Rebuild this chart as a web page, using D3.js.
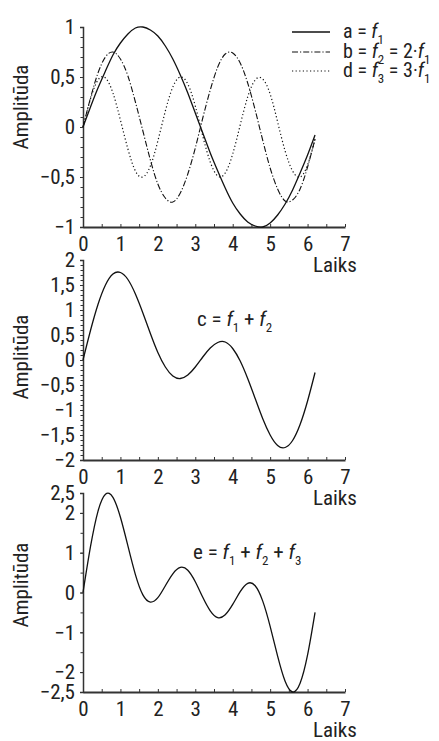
<!DOCTYPE html>
<html>
<head>
<meta charset="utf-8">
<script src="https://cdn.jsdelivr.net/npm/d3@7"></script>
<style>
  body { margin: 0; background: #fff; }
  svg text { font-family: "Roboto Condensed", Roboto, "Liberation Sans Narrow", sans-serif; font-stretch: condensed; fill: #222; }
</style>
</head>
<body>
<div class="vis"></div>
<script>
// time samples (Laiks)
const laiks = [0, 0.2, 0.4, 0.6, 0.8, 1.0, 1.2, 1.4, 1.6, 1.8, 2.0, 2.2, 2.4, 2.6, 2.8, 3.0,
  3.2, 3.4, 3.6, 3.8, 4.0, 4.2, 4.4, 4.6, 4.8, 5.0, 5.2, 5.4, 5.6, 5.8, 6.0, 6.2];

// panel 1
const seriesA = [0, 0.20, 0.39, 0.56, 0.72, 0.84, 0.93, 0.99, 1.00, 0.97, 0.91, 0.81, 0.68, 0.52, 0.34, 0.14,
  -0.06, -0.26, -0.44, -0.61, -0.76, -0.87, -0.95, -0.99, -1.00, -0.96, -0.88, -0.77, -0.63, -0.46, -0.28, -0.08];
const seriesB = [0, 0.29, 0.54, 0.70, 0.75, 0.68, 0.51, 0.25, -0.04, -0.33, -0.57, -0.71, -0.75, -0.66, -0.47, -0.21,
  0.09, 0.37, 0.60, 0.73, 0.74, 0.64, 0.44, 0.17, -0.13, -0.41, -0.62, -0.74, -0.73, -0.62, -0.40, -0.12];
const seriesD = [0, 0.28, 0.47, 0.49, 0.34, 0.07, -0.22, -0.44, -0.50, -0.39, -0.14, 0.16, 0.40, 0.50, 0.43, 0.21,
  -0.09, -0.35, -0.49, -0.46, -0.27, 0.02, 0.30, 0.47, 0.48, 0.33, 0.05, -0.24, -0.44, -0.50, -0.38, -0.12];

// panel 2
const seriesC = [0, 0.59, 1.11, 1.50, 1.72, 1.75, 1.61, 1.32, 0.94, 0.53, 0.15, -0.14, -0.32, -0.37, -0.30, -0.14,
  0.06, 0.24, 0.35, 0.36, 0.23, -0.02, -0.37, -0.77, -1.17, -1.50, -1.71, -1.75, -1.61, -1.29, -0.82, -0.25];

// panel 3
const seriesE = [0, 1.15, 2.04, 2.47, 2.39, 1.89, 1.17, 0.45, -0.06, -0.24, -0.13, 0.17, 0.47, 0.63, 0.56, 0.27,
  -0.12, -0.46, -0.63, -0.56, -0.30, 0.02, 0.23, 0.17, -0.21, -0.85, -1.60, -2.23, -2.50, -2.28, -1.57, -0.50];

const xTicks = [0, 1, 2, 3, 4, 5, 6, 7];
const yTicks1 = [-1, -0.5, 0, 0.5, 1];
const yTicks2 = [-2, -1.5, -1, -0.5, 0, 0.5, 1, 1.5, 2];
const yTicks3 = [-2.5, -2, -1, 0, 1, 2, 2.5];

const W = 439, H = 741;
const FS = 21;
const svg = d3.select(".vis").append("svg").attr("width", W).attr("height", H);

const x = d3.scaleLinear().domain([0, 7]).range([83, 345]);
const fmt = (v) => (v < 0 ? "\u2212" : "") + String(Math.abs(v)).replace(".", ",");

const panels = [
  { y: d3.scaleLinear().domain([-1, 1]).range([227, 27]), ticks: yTicks1, minor: 0.1, yLabel: 107 },
  { y: d3.scaleLinear().domain([-2, 2]).range([460, 260]), ticks: yTicks2, minor: 0.1, yLabel: 357 },
  { y: d3.scaleLinear().domain([-2.5, 2.5]).range([692, 493]), ticks: yTicks3, minor: 0.5, yLabel: 585 }
];

panels.forEach((p) => {
  const g = svg.append("g");
  const [y0, y1] = p.y.domain();
  const bottom = p.y(y0);

  // minor y ticks
  g.append("g")
    .attr("transform", `translate(${x(0)},0)`)
    .call(d3.axisLeft(p.y).tickValues(d3.range(y0, y1 + 1e-9, p.minor)).tickSize(2.5).tickFormat(""))
    .call((a) => a.select(".domain").remove())
    .call((a) => a.selectAll("line").attr("stroke", "#333"));

  // labelled y ticks
  g.append("g")
    .attr("transform", `translate(${x(0)},0)`)
    .call(d3.axisLeft(p.y).tickValues(p.ticks).tickSize(3).tickPadding(5).tickFormat(fmt))
    .call((a) => a.select(".domain").attr("stroke", "#333").attr("stroke-width", 1.5))
    .call((a) => a.selectAll("line").attr("stroke", "#333"))
    .call((a) => a.selectAll("text").attr("font-size", FS).attr("fill", "#222")
      .attr("font-family", null));

  // x axis
  g.append("g")
    .attr("transform", `translate(0,${bottom})`)
    .call(d3.axisBottom(x).tickValues(d3.range(0, 7.01, 0.5)).tickSize(-3).tickFormat(""))
    .call((a) => a.select(".domain").remove())
    .call((a) => a.selectAll("line").attr("stroke", "#333"));
  g.append("g")
    .attr("transform", `translate(0,${bottom})`)
    .call(d3.axisBottom(x).tickValues(xTicks).tickSize(0).tickPadding(9).tickFormat(d3.format("d")))
    .call((a) => a.select(".domain").attr("stroke", "#333").attr("stroke-width", 2))
    .call((a) => a.selectAll("text").attr("font-size", FS).attr("fill", "#222")
      .attr("font-family", null));

  g.append("text")
    .attr("x", 313)
    .attr("y", bottom + 45)
    .attr("font-size", FS)
    .text("Laiks");

  g.append("text")
    .attr("transform", `translate(28,${p.yLabel}) rotate(-90)`)
    .attr("text-anchor", "middle")
    .attr("font-size", FS)
    .text("Amplitūda");

  p.g = g;
});

const lineFor = (yScale) => d3.line()
  .x((d, i) => x(laiks[i]))
  .y((d) => yScale(d))
  .curve(d3.curveNatural);

const styles = {
  a: { dash: null, width: 1.3 },
  b: { dash: "6,2,1.2,2", width: 1.1 },
  d: { dash: "1.2,2.4", width: 1.2 }
};

const topPanel = panels[0];
[["d", seriesD], ["b", seriesB], ["a", seriesA]].forEach(([k, s]) => {
  topPanel.g.append("path")
    .attr("d", lineFor(topPanel.y)(s))
    .attr("fill", "none")
    .attr("stroke", "#111")
    .attr("stroke-width", styles[k].width)
    .attr("stroke-dasharray", styles[k].dash);
});

panels[1].g.append("path")
  .attr("d", lineFor(panels[1].y)(seriesC))
  .attr("fill", "none").attr("stroke", "#111").attr("stroke-width", 1.3);

panels[2].g.append("path")
  .attr("d", lineFor(panels[2].y)(seriesE))
  .attr("fill", "none").attr("stroke", "#111").attr("stroke-width", 1.3);

// formula text with italic f and subscripts
const formula = (sel, parts) => {
  parts.forEach((p) => {
    if (p.f) {
      sel.append("tspan").attr("font-style", "italic").text("f");
      sel.append("tspan").attr("dy", 6).attr("font-size", 13).text(p.f);
      sel.append("tspan").attr("dy", -6).text(p.t || "");
    } else {
      sel.append("tspan").text(p.t);
    }
  });
};

const legendRows = [
  { key: "a", y: 32, parts: [{ t: "a = " }, { f: "1" }] },
  { key: "b", y: 52, parts: [{ t: "b = " }, { f: "2", t: " = 2·" }, { f: "1" }] },
  { key: "d", y: 71, parts: [{ t: "d = " }, { f: "3", t: " = 3·" }, { f: "1" }] }
];
const legend = svg.append("g");
legendRows.forEach((r) => {
  legend.append("line")
    .attr("x1", 292).attr("x2", 330)
    .attr("y1", r.y).attr("y2", r.y)
    .attr("stroke", "#111")
    .attr("stroke-width", styles[r.key].width)
    .attr("stroke-dasharray", styles[r.key].dash);
  const t = legend.append("text")
    .attr("x", 343).attr("y", r.y + 6)
    .attr("font-size", 20);
  formula(t, r.parts);
});

formula(svg.append("text").attr("x", 197).attr("y", 326).attr("font-size", FS),
  [{ t: "c = " }, { f: "1", t: " + " }, { f: "2" }]);
formula(svg.append("text").attr("x", 193).attr("y", 559).attr("font-size", FS),
  [{ t: "e = " }, { f: "1", t: " + " }, { f: "2", t: " + " }, { f: "3" }]);
</script>
</body>
</html>
